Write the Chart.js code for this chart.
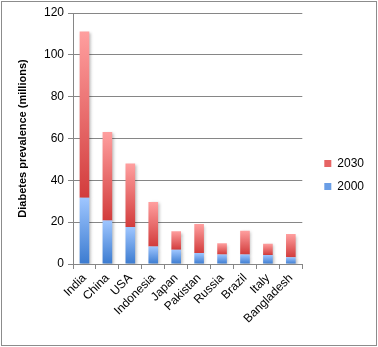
<!DOCTYPE html>
<html lang="en">
<head>
  <meta charset="UTF-8">
  <title>Diabetes prevalence</title>
  <script src="https://cdn.jsdelivr.net/npm/chart.js"></script>
  <style>
    body {
      margin: 0;
      background: #fff;
    }
    #wrap {
      width: 378px;
      height: 347px;
    }
  </style>
</head>
<body>
  <div id="wrap"><canvas id="diabetesChart" width="378" height="347"></canvas></div>

  <script>
    // diabetes prevalence in millions, 2000 and projected 2030
    const countries = ['India', 'China', 'USA', 'Indonesia', 'Japan', 'Pakistan', 'Russia', 'Brazil', 'Italy', 'Bangladesh'];
    const cases2000 = [31.7, 20.8, 17.7, 8.4, 6.8, 5.2, 4.6, 4.6, 4.3, 3.2];
    const cases2030 = [79.4, 42.3, 30.3, 21.3, 8.9, 13.9, 5.3, 11.3, 5.4, 11.1];
    const yTicks = [0, 20, 40, 60, 80, 100, 120];

    // vertical gradient over one bar segment, dark at the bottom
    function segmentGradient(ctx, dark, light) {
      const chart = ctx.chart;
      const y = chart.scales.y;
      if (!y || ctx.dataIndex === undefined) return dark;
      const i = ctx.dataIndex;
      const lo = ctx.datasetIndex === 0 ? 0 : cases2000[i];
      const hi = ctx.datasetIndex === 0 ? cases2000[i] : cases2000[i] + cases2030[i];
      const g = chart.ctx.createLinearGradient(0, y.getPixelForValue(lo), 0, y.getPixelForValue(hi));
      g.addColorStop(0, dark);
      g.addColorStop(1, light);
      return g;
    }

    const frame = {
      id: 'frame',
      beforeDraw(chart) {
        const c = chart.ctx;
        c.save();
        c.fillStyle = '#fff';
        c.fillRect(0, 0, chart.width, chart.height);
        c.strokeStyle = '#8c8c8c';
        c.lineWidth = 1;
        c.strokeRect(1.5, 1.5, chart.width - 3, chart.height - 3);
        c.restore();
      }
    };

    const barShadow = {
      id: 'barShadow',
      beforeDatasetsDraw(chart) {
        const c = chart.ctx;
        c.save();
        c.shadowColor = 'rgba(0,0,0,0.25)';
        c.shadowBlur = 3;
        c.shadowOffsetX = 1.5;
        c.shadowOffsetY = 1.5;
      },
      afterDatasetsDraw(chart) {
        chart.ctx.restore();
      }
    };

    const ctx = document.getElementById('diabetesChart').getContext('2d');

    new Chart(ctx, {
      type: 'bar',
      data: {
        labels: countries,
        datasets: [{
          label: '2000',
          data: cases2000,
          backgroundColor: c => segmentGradient(c, '#3b7bd0', '#9fc6ff'),
          legendColor: '#6a9ee6'
        }, {
          label: '2030',
          data: cases2030,
          backgroundColor: c => segmentGradient(c, '#d23c3c', '#ff9f9f'),
          legendColor: '#e66464'
        }]
      },
      options: {
        responsive: false,
        animation: false,
        categoryPercentage: 1,
        barPercentage: 0.42,
        layout: { padding: { top: 13, right: 4, bottom: 10, left: 0 } },
        plugins: {
          tooltip: { enabled: false },
          legend: {
            position: 'right',
            reverse: true,
            labels: {
              boxWidth: 7,
              boxHeight: 7,
              padding: 11,
              color: '#000',
              font: { family: 'Liberation Sans', size: 12 },
              generateLabels(chart) {
                return chart.data.datasets.map((ds, i) => ({
                  text: ds.label,
                  fillStyle: ds.legendColor,
                  strokeStyle: ds.legendColor,
                  lineWidth: 0,
                  datasetIndex: i
                }));
              }
            }
          }
        },
        scales: {
          x: {
            stacked: true,
            grid: {
              drawOnChartArea: false,
              drawTicks: true,
              tickLength: 5,
              color: '#868686'
            },
            border: { color: '#868686' },
            ticks: {
              color: '#000',
              font: { family: 'Liberation Sans', size: 12 },
              minRotation: 45,
              maxRotation: 45,
              padding: 2,
              autoSkip: false
            },
            afterFit(s) { s.height = 73; }
          },
          y: {
            stacked: true,
            min: 0,
            max: 120,
            afterBuildTicks(s) { s.ticks = yTicks.map(v => ({ value: v })); },
            grid: { color: '#868686', tickLength: 5 },
            border: { color: '#868686' },
            ticks: {
              color: '#000',
              font: { family: 'Liberation Sans', size: 12 },
              padding: 4
            },
            title: {
              display: true,
              text: 'Diabetes prevalence (millions)',
              color: '#000',
              font: { family: 'Liberation Sans', size: 11, weight: 'bold' },
              padding: { top: 16, bottom: 0 }
            },
            afterFit(s) { s.width = 73; }
          },
          gap: {
            type: 'linear',
            position: 'right',
            display: true,
            grid: { display: false },
            border: { display: false },
            ticks: { display: false },
            afterFit(s) { s.width = 11; }
          }
        }
      },
      plugins: [frame, barShadow]
    });
  </script>
</body>
</html>
